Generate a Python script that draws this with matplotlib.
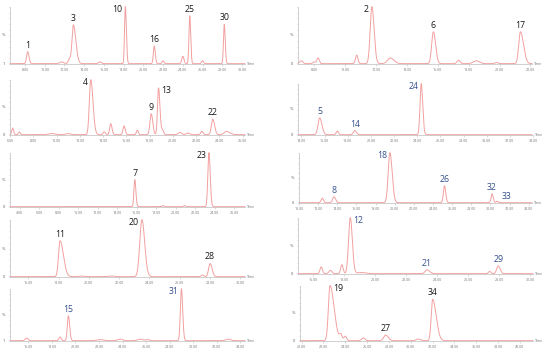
import numpy as np
import matplotlib.pyplot as plt

plt.rcParams['font.family'] = ['Open Sans', 'DejaVu Sans']

# peak tables: retention time (min), relative height,
# width (sigma, min), tailing factor, peak number ('' = unnamed)
p1_rt = [8.27, 11.7, 12.5, 12.9, 15.6, 18.17, 21.1, 22.0, 24.0, 24.7, 26.0, 28.2]
p1_h = [0.21, 0.03, 0.08, 0.68, 0.03, 1.0, 0.31, 0.05, 0.13, 0.84, 0.05, 0.69]
p1_w = [0.11, 0.2, 0.12, 0.14, 0.15, 0.08, 0.09, 0.1, 0.11, 0.08, 0.1, 0.08]
p1_tail = [1.2, 1, 1, 1.8, 1, 1.3, 1.2, 1, 1, 1.2, 1, 1.2]
p1_names = ['1', '', '', '3', '', '10', '16', '', '', '25', '', '30']

p2_rt = [7.17, 8.0, 8.26, 10.76, 11.74, 12.93, 15.72, 17.35, 18.5, 19.8, 21.35]
p2_h = [0.05, 0.03, 0.1, 0.15, 1.0, 0.1, 0.56, 0.06, 0.05, 0.02, 0.56]
p2_w = [0.1, 0.08, 0.08, 0.08, 0.11, 0.18, 0.11, 0.1, 0.2, 0.1, 0.11]
p2_tail = [1, 1, 1, 1, 1.3, 1.3, 1.3, 1, 1, 1, 1.8]
p2_names = ['', '', '', '', '2', '', '6', '', '', '', '17']

p3_rt = [6.23, 6.8, 9.6, 11.0, 12.94, 14.1, 14.66, 15.8, 16.94, 18.14, 18.77, 19.1,
         20.6, 21.3, 22.5, 23.43, 24.6]
p3_h = [0.12, 0.05, 0.02, 0.02, 1.0, 0.05, 0.2, 0.16, 0.08, 0.38, 0.85, 0.08,
        0.04, 0.03, 0.06, 0.28, 0.06]
p3_w = [0.08, 0.08, 0.3, 0.2, 0.12, 0.1, 0.09, 0.09, 0.08, 0.11, 0.09, 0.1,
        0.15, 0.15, 0.1, 0.12, 0.2]
p3_tail = [1, 1, 1, 1, 1.6, 1, 1.2, 1.2, 1, 1.2, 1.3, 1, 1, 1, 1, 1.3, 1.5]
p3_names = ['', '', '', '', '4', '', '', '', '', '9', '13', '', '', '', '', '22', '']

p4_rt = [15.57, 17.1, 18.6, 24.34]
p4_h = [0.33, 0.07, 0.08, 1.0]
p4_w = [0.14, 0.1, 0.12, 0.1]
p4_tail = [1.4, 1, 1.2, 1.3]
p4_names = ['5', '', '14', '24']

p5_rt = [15.8, 18.7, 20.9, 23.4]
p5_h = [0.5, 0.02, 0.02, 1.0]
p5_w = [0.09, 0.1, 0.1, 0.11]
p5_tail = [1.2, 1, 1, 1.2]
p5_names = ['7', '', '', '23']

p6_rt = [12.43, 13.65, 19.5, 25.2, 30.17, 30.7]
p6_h = [0.09, 0.12, 1.0, 0.34, 0.18, 0.03]
p6_w = [0.12, 0.14, 0.18, 0.11, 0.1, 0.1]
p6_tail = [1, 1.2, 1.3, 1.2, 1.2, 1]
p6_names = ['', '8', '18', '26', '32', '33']

p7_rt = [18.1, 19.5, 21.5, 23.5, 27.5, 28.0]
p7_h = [0.63, 0.01, 0.01, 1.0, 0.03, 0.23]
p7_w = [0.1, 0.2, 0.2, 0.14, 0.08, 0.1]
p7_tail = [2.2, 1, 1, 1.3, 1, 1.3]
p7_names = ['11', '', '', '20', '', '28']

p8_rt = [16.5, 17.1, 17.84, 18.38, 19.1, 23.34, 27.4, 27.95]
p8_h = [0.12, 0.06, 0.16, 1.0, 0.02, 0.07, 0.04, 0.14]
p8_w = [0.08, 0.1, 0.08, 0.11, 0.3, 0.12, 0.08, 0.1]
p8_tail = [1, 1, 1, 1.2, 1, 1.4, 1, 1.2]
p8_names = ['', '', '', '12', '', '21', '', '29']

p9_rt = [15.86, 18.7, 19.4, 22.1, 23.8, 25.5, 26.1, 29.0, 33.0]
p9_h = [0.05, 0.07, 0.48, 0.02, 0.03, 0.03, 0.02, 1.0, 0.03]
p9_w = [0.12, 0.1, 0.09, 0.3, 0.2, 0.2, 0.15, 0.09, 0.2]
p9_tail = [1, 1, 1.2, 1, 1, 1, 1, 1.2, 1]
p9_names = ['', '', '15', '', '', '', '', '31', '']

p10_rt = [22.6, 23.6, 24.0, 25.65, 27.7, 30.7, 32.0]
p10_h = [1.0, 0.1, 0.08, 0.05, 0.1, 0.03, 0.75]
p10_w = [0.15, 0.12, 0.12, 0.15, 0.18, 0.2, 0.13]
p10_tail = [2.5, 1, 1, 1, 1.3, 1, 2.5]
p10_names = ['19', '', '', '', '27', '', '34']

# x axis ranges (min) and tick label ranges
p_xlims = [(6.48, 30.3), (6.96, 22.1), (6.0, 26.2), (13.7, 33.9), (3.0, 27.1),
           (10.0, 34.35), (14.8, 30.3), (15.0, 30.2), (14.44, 34.4), (19.85, 41.2)]
p_ticks = [(8, 30), (8, 22), (6, 26), (14, 34), (4, 26),
           (10, 34), (16, 30), (16, 30), (16, 34), (20, 40)]

LINE = '#f3a0a0'
BLACK = '#1a1a1a'
BLUE = '#34508c'
W, H = 550, 352

fig = plt.figure(figsize=(5.5, 3.52), dpi=100)

# label placement relative to the peak top, in points
PLACE = {
    'u': ((0, 1.5), 'center', 'bottom'),
    'ur': ((3, 0.5), 'left', 'bottom'),
    'l': ((-2, -2), 'right', 'center'),
    'r': ((2, -2), 'left', 'center'),
}


def add_panel(rect, xlim, ticks, rt, h, w, tail, names, sides, lab_color, zero='0'):
    x0, y0, x1, y1 = rect
    ax = fig.add_axes([x0 / W, 1 - y1 / H, (x1 - x0) / W, (y1 - y0) / H])
    t = np.linspace(xlim[0], xlim[1], 4000)
    y = np.full_like(t, 0.006)
    for r, hh, s, tl in zip(rt, h, w, tail):
        sd = np.where(t < r, s, s * tl)
        y += hh * np.exp(-0.5 * ((t - r) / sd) ** 2)
    ax.plot(t, y, color=LINE, lw=0.7, clip_on=False)

    ax.set_xlim(*xlim)
    ax.set_ylim(0, 1.0)
    for sp in ['top', 'right']:
        ax.spines[sp].set_visible(False)
    for sp in ['left', 'bottom']:
        ax.spines[sp].set_color('#bdbdbd')
        ax.spines[sp].set_linewidth(0.5)
    tk = np.arange(ticks[0], ticks[1] + 0.1, 2)
    ax.set_xticks(tk)
    ax.set_xticklabels(['%.2f' % v for v in tk])
    ax.tick_params(axis='x', length=1.2, width=0.4, colors='#bdbdbd', labelsize=2.6,
                   labelcolor='#777777', pad=1.5)
    ax.set_yticks(np.arange(0, 1.01, 0.1))
    ax.set_yticklabels([])
    ax.tick_params(axis='y', length=1.0, width=0.4, colors='#bdbdbd')
    ax.text(-0.02, 0.5, '%', transform=ax.transAxes, fontsize=3, color='#555555',
            ha='right', va='center')
    ax.text(-0.02, 0.0, zero, transform=ax.transAxes, fontsize=2.8, color='#555555',
            ha='right', va='center')
    ax.text(1.01, 0.0, 'Time', transform=ax.transAxes, fontsize=2.6, color='#777777',
            ha='left', va='center')

    k = 0
    for r, hh, nm in zip(rt, h, names):
        if not nm:
            continue
        off, ha, va = PLACE[sides[k]]
        k += 1
        top = y[np.argmin(np.abs(t - r))]
        ax.annotate(nm, (r, top), xytext=off, textcoords='offset points',
                    ha=ha, va=va, fontsize=6.3, color=lab_color)
    return ax


add_panel((10, 7, 245, 64), p_xlims[0], p_ticks[0], p1_rt, p1_h, p1_w, p1_tail, p1_names,
          ['u', 'u', 'l', 'u', 'u', 'u'], BLACK, zero='1')
add_panel((298, 7, 532, 64), p_xlims[1], p_ticks[1], p2_rt, p2_h, p2_w, p2_tail, p2_names,
          ['l', 'u', 'u'], BLACK)
add_panel((10, 80, 245, 135), p_xlims[2], p_ticks[2], p3_rt, p3_h, p3_w, p3_tail, p3_names,
          ['l', 'u', 'r', 'u'], BLACK)
add_panel((298, 84, 533, 135), p_xlims[3], p_ticks[3], p4_rt, p4_h, p4_w, p4_tail, p4_names,
          ['u', 'u', 'l'], BLUE)
add_panel((10, 153, 245, 207), p_xlims[4], p_ticks[4], p5_rt, p5_h, p5_w, p5_tail, p5_names,
          ['u', 'l'], BLACK)
add_panel((299, 153, 532, 203), p_xlims[5], p_ticks[5], p6_rt, p6_h, p6_w, p6_tail, p6_names,
          ['u', 'l', 'u', 'u', 'ur'], BLUE)
add_panel((10, 220, 245, 277), p_xlims[6], p_ticks[6], p7_rt, p7_h, p7_w, p7_tail, p7_names,
          ['u', 'l', 'u'], BLACK)
add_panel((298, 218, 533, 274), p_xlims[7], p_ticks[7], p8_rt, p8_h, p8_w, p8_tail, p8_names,
          ['r', 'u', 'u'], BLUE)
add_panel((10, 289, 245, 341), p_xlims[8], p_ticks[8], p9_rt, p9_h, p9_w, p9_tail, p9_names,
          ['u', 'l'], BLUE, zero='1')
add_panel((300, 286, 533, 341), p_xlims[9], p_ticks[9], p10_rt, p10_h, p10_w, p10_tail,
          p10_names, ['r', 'u', 'u'], BLACK)

fig.savefig('out.png', dpi=100)
